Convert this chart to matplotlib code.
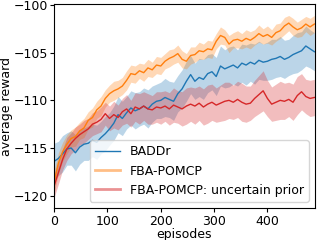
import numpy as np
import matplotlib
matplotlib.use("Agg")
import matplotlib.pyplot as plt
from matplotlib.lines import Line2D

episodes = list(range(0, 489, 8))

baddr = [-116.4, -116.1, -115.6, -115.1, -115.0, -115.5, -114.9, -114.6, -114.5, -114.2,
         -114.4, -113.9, -113.5, -113.0, -112.4, -111.5, -111.9, -111.3, -110.8, -111.1,
         -110.9, -110.6, -110.9, -110.4, -110.1, -110.0, -109.7, -109.9, -110.1, -109.3,
         -108.8, -108.0, -107.3, -108.0, -107.6, -107.8, -107.2, -107.0, -107.5, -106.4,
         -106.7, -106.5, -106.3, -106.6, -106.1, -106.3, -106.0, -106.2, -105.8, -106.0,
         -105.9, -105.7, -105.6, -105.4, -105.7, -105.5, -105.2, -105.0, -104.8, -104.3,
         -104.6, -104.9]
baddr_err = [1.9, 1.8, 1.9, 1.7, 1.8, 1.9, 1.8, 1.7, 1.8, 1.7,
             1.8, 1.7, 1.8, 1.7, 1.8, 1.9, 1.8, 1.7, 1.8, 1.9,
             1.8, 1.9, 2.0, 1.9, 1.8, 1.9, 2.0, 1.9, 2.0, 1.9,
             2.0, 2.1, 2.0, 1.9, 2.0, 2.1, 2.0, 1.9, 2.0, 2.1,
             2.0, 2.1, 2.0, 1.9, 2.0, 2.1, 2.0, 2.1, 2.0, 1.9,
             2.0, 2.1, 2.0, 2.1, 2.0, 1.9, 2.0, 2.1, 2.0, 2.1,
             2.0, 2.0]

fba = [-118.6, -116.6, -115.4, -114.6, -114.0, -113.8, -113.2, -112.9, -112.1, -111.8,
       -111.0, -110.6, -109.8, -109.3, -109.0, -108.8, -108.5, -107.9, -107.2, -107.3,
       -106.9, -107.1, -106.6, -106.8, -106.3, -106.4, -105.9, -105.6, -105.4, -105.1,
       -105.7, -105.9, -105.3, -105.2, -104.8, -104.9, -104.6, -104.7, -103.8, -103.2,
       -103.4, -104.1, -103.7, -103.6, -103.8, -103.5, -103.7, -103.4, -103.0, -103.3,
       -103.1, -103.4, -102.9, -102.7, -102.2, -101.9, -102.3, -102.6, -102.4, -102.0,
       -102.3, -102.0]
fba_err = [1.2, 1.1, 1.0, 1.0, 0.9, 1.0, 0.9, 1.0, 0.9, 1.0,
           0.9, 1.0, 0.9, 0.9, 1.0, 0.9, 0.9, 1.0, 0.9, 0.9,
           0.8, 0.9, 0.9, 0.8, 0.9, 0.9, 0.8, 0.9, 0.8, 0.9,
           0.9, 0.8, 0.9, 0.8, 0.9, 0.8, 0.9, 0.9, 0.8, 0.9,
           0.8, 0.9, 0.8, 0.9, 0.8, 0.9, 0.9, 0.8, 0.9, 0.8,
           0.9, 0.8, 0.9, 0.8, 0.9, 0.8, 0.9, 0.8, 0.9, 0.8,
           0.9, 0.9]

uncertain = [-119.0, -117.6, -116.2, -115.1, -114.5, -114.0, -113.6, -113.3, -113.0, -112.5,
             -112.3, -112.0, -111.4, -111.9, -111.5, -111.8, -111.2, -110.9, -111.4, -110.7,
             -110.9, -110.6, -110.9, -111.0, -110.7, -110.8, -110.6, -110.9, -110.5, -110.7,
             -110.9, -110.6, -110.4, -110.6, -110.3, -110.7, -110.4, -110.2, -110.5, -110.3,
             -110.1, -110.0, -110.2, -109.9, -110.2, -110.4, -110.3, -109.8, -109.4, -109.0,
             -109.8, -110.4, -110.2, -110.0, -110.1, -109.9, -110.2, -109.5, -109.1, -109.6,
             -109.8, -109.7]
uncertain_err = [1.2, 1.2, 1.1, 1.2, 1.1, 1.2, 1.1, 1.2, 1.1, 1.2,
                 1.2, 1.3, 1.2, 1.3, 1.4, 1.3, 1.4, 1.5, 1.4, 1.5,
                 1.6, 1.5, 1.6, 1.5, 1.6, 1.7, 1.6, 1.7, 1.8, 1.7,
                 1.8, 1.9, 1.8, 1.9, 1.8, 1.9, 2.0, 1.9, 1.8, 1.9,
                 2.0, 1.9, 1.8, 1.9, 2.0, 1.9, 1.8, 1.9, 2.0, 2.1,
                 1.9, 1.8, 1.9, 2.0, 1.9, 1.8, 1.9, 2.0, 1.9, 1.8,
                 1.9, 1.9]

labels = ["BADDr", "FBA-POMCP", "FBA-POMCP: uncertain prior"]
colors = ["#1f77b4", "#ff7f0e", "#d62728"]

plt.rcParams["font.size"] = 9
plt.rcParams["xtick.major.size"] = 3
plt.rcParams["ytick.major.size"] = 3
plt.rcParams["xtick.major.pad"] = 2
plt.rcParams["ytick.major.pad"] = 1.5

fig = plt.figure(figsize=(3.2, 2.4), dpi=100)
ax = fig.add_axes([0.169, 0.133, 0.815, 0.849])

x = np.array(episodes)
for mean, err, c in [(baddr, baddr_err, colors[0]),
                     (fba, fba_err, colors[1]),
                     (uncertain, uncertain_err, colors[2])]:
    m = np.array(mean)
    e = np.array(err)
    ax.fill_between(x, m - e, m + e, color=c, alpha=0.3, linewidth=0)
    ax.plot(x, m, color=c, linewidth=1)

ax.set_xlim(0, 489)
ax.set_ylim(-121.3, -99.93)
ax.set_xticks([0, 100, 200, 300, 400])
ax.set_yticks([-120, -115, -110, -105, -100])
ax.set_xlabel("episodes", labelpad=0)
ax.set_ylabel("average reward", labelpad=0.5)

handles = [Line2D([], [], color=colors[0], linewidth=1),
           Line2D([], [], color=colors[1], linewidth=2, alpha=0.5),
           Line2D([], [], color=colors[2], linewidth=2, alpha=0.5)]
ax.legend(handles, labels, loc="lower right")

fig.savefig("out.png", dpi=100)
